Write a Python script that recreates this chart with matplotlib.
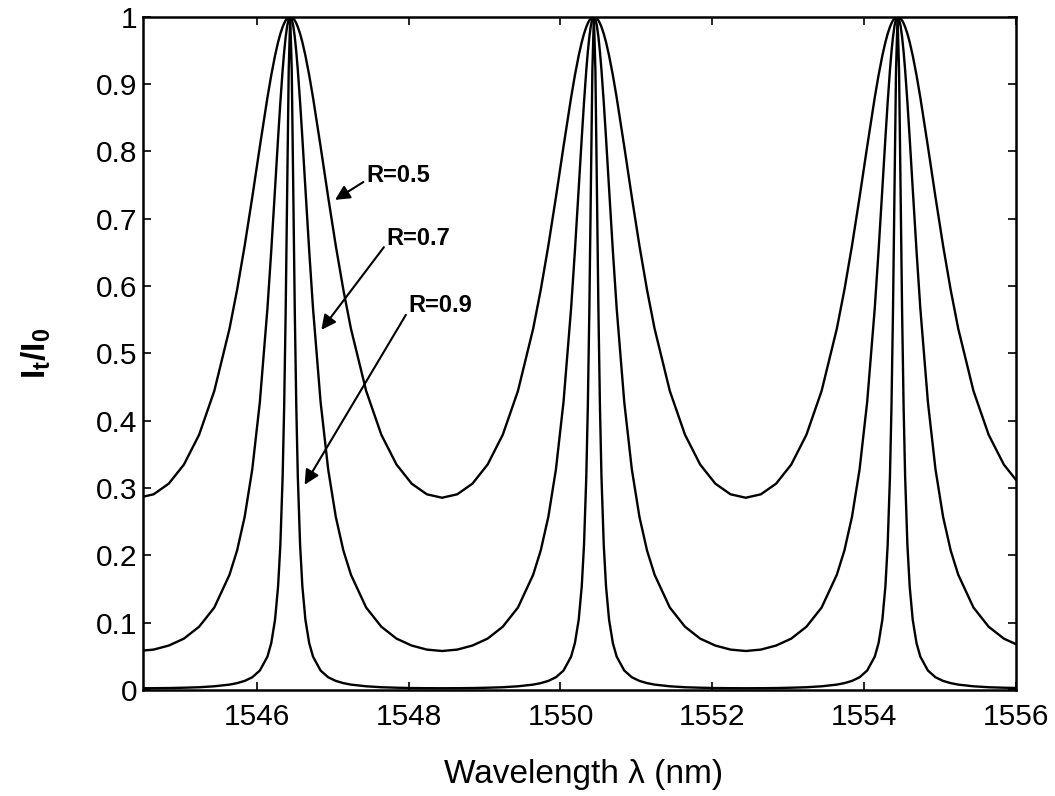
import matplotlib
matplotlib.use("Agg")
import matplotlib.pyplot as plt

#-----------------------------------------------------------
# data (wavelength in nm, normalised transmission)
wavelength = [
  1544.44, 1544.64, 1544.84, 1545.04, 1545.24, 1545.44, 1545.64, 1545.74, 1545.84, 1545.94, 1546.04,
  1546.14, 1546.19, 1546.24, 1546.28, 1546.31, 1546.34, 1546.36, 1546.38, 1546.40, 1546.42,
  1546.44,
  1546.46, 1546.48, 1546.50, 1546.52, 1546.54, 1546.57, 1546.60, 1546.64, 1546.69, 1546.74, 1546.84,
  1546.94, 1547.04, 1547.14, 1547.24, 1547.44, 1547.64, 1547.84, 1548.04, 1548.24, 1548.44,
  1548.64, 1548.84, 1549.04, 1549.24, 1549.44, 1549.64, 1549.74, 1549.84, 1549.94, 1550.04,
  1550.14, 1550.19, 1550.24, 1550.28, 1550.31, 1550.34, 1550.36, 1550.38, 1550.40, 1550.42,
  1550.44,
  1550.46, 1550.48, 1550.50, 1550.52, 1550.54, 1550.57, 1550.60, 1550.64, 1550.69, 1550.74, 1550.84,
  1550.94, 1551.04, 1551.14, 1551.24, 1551.44, 1551.64, 1551.84, 1552.04, 1552.24, 1552.44,
  1552.64, 1552.84, 1553.04, 1553.24, 1553.44, 1553.64, 1553.74, 1553.84, 1553.94, 1554.04,
  1554.14, 1554.19, 1554.24, 1554.28, 1554.31, 1554.34, 1554.36, 1554.38, 1554.40, 1554.42,
  1554.44,
  1554.46, 1554.48, 1554.50, 1554.52, 1554.54, 1554.57, 1554.60, 1554.64, 1554.69, 1554.74, 1554.84,
  1554.94, 1555.04, 1555.14, 1555.24, 1555.44, 1555.64, 1555.84, 1556.04,
]

trans_r05 = [
  .2857, .2908, .3066, .3350, .3793, .4444, .5366, .5944, .6600, .7320, .8073,
  .8801, .9131, .9423, .9622, .9747, .9848, .9902, .9945, .9975, .9994,
  1.0,
  .9994, .9975, .9945, .9902, .9848, .9747, .9622, .9423, .9131, .8801, .8073,
  .7320, .6600, .5944, .5366, .4444, .3793, .3350, .3066, .2908, .2857,
  .2908, .3066, .3350, .3793, .4444, .5366, .5944, .6600, .7320, .8073,
  .8801, .9131, .9423, .9622, .9747, .9848, .9902, .9945, .9975, .9994,
  1.0,
  .9994, .9975, .9945, .9902, .9848, .9747, .9622, .9423, .9131, .8801, .8073,
  .7320, .6600, .5944, .5366, .4444, .3793, .3350, .3066, .2908, .2857,
  .2908, .3066, .3350, .3793, .4444, .5366, .5944, .6600, .7320, .8073,
  .8801, .9131, .9423, .9622, .9747, .9848, .9902, .9945, .9975, .9994,
  1.0,
  .9994, .9975, .9945, .9902, .9848, .9747, .9622, .9423, .9131, .8801, .8073,
  .7320, .6600, .5944, .5366, .4444, .3793, .3350, .3066,
]

trans_r07 = [
  .0581, .0602, .0662, .0765, .0942, .1227, .1713, .2074, .2574, .3278, .4279,
  .5672, .6524, .7448, .8197, .8730, .9207, .9477, .9699, .9864, .9966,
  1.0,
  .9966, .9864, .9699, .9477, .9207, .8730, .8197, .7448, .6524, .5672, .4279,
  .3278, .2574, .2074, .1713, .1227, .0942, .0765, .0662, .0602, .0581,
  .0602, .0662, .0765, .0942, .1227, .1713, .2074, .2574, .3278, .4279,
  .5672, .6524, .7448, .8197, .8730, .9207, .9477, .9699, .9864, .9966,
  1.0,
  .9966, .9864, .9699, .9477, .9207, .8730, .8197, .7448, .6524, .5672, .4279,
  .3278, .2574, .2074, .1713, .1227, .0942, .0765, .0662, .0602, .0581,
  .0602, .0662, .0765, .0942, .1227, .1713, .2074, .2574, .3278, .4279,
  .5672, .6524, .7448, .8197, .8730, .9207, .9477, .9699, .9864, .9966,
  1.0,
  .9966, .9864, .9699, .9477, .9207, .8730, .8197, .7448, .6524, .5672, .4279,
  .3278, .2574, .2074, .1713, .1227, .0942, .0765, .0662,
]

trans_r09 = [
  .0028, .0029, .0031, .0036, .0043, .0057, .0082, .0104, .0137, .0191, .0291,
  .0498, .0698, .1045, .1539, .2157, .3170, .4202, .5628, .7432, .9205,
  1.0,
  .9205, .7432, .5628, .4202, .3170, .2157, .1539, .1045, .0698, .0498, .0291,
  .0191, .0137, .0104, .0082, .0057, .0043, .0036, .0031, .0029, .0028,
  .0029, .0031, .0036, .0043, .0057, .0082, .0104, .0137, .0191, .0291,
  .0498, .0698, .1045, .1539, .2157, .3170, .4202, .5628, .7432, .9205,
  1.0,
  .9205, .7432, .5628, .4202, .3170, .2157, .1539, .1045, .0698, .0498, .0291,
  .0191, .0137, .0104, .0082, .0057, .0043, .0036, .0031, .0029, .0028,
  .0029, .0031, .0036, .0043, .0057, .0082, .0104, .0137, .0191, .0291,
  .0498, .0698, .1045, .1539, .2157, .3170, .4202, .5628, .7432, .9205,
  1.0,
  .9205, .7432, .5628, .4202, .3170, .2157, .1539, .1045, .0698, .0498, .0291,
  .0191, .0137, .0104, .0082, .0057, .0043, .0036, .0031,
]

x_ticks = [1546, 1548, 1550, 1552, 1554, 1556]
y_ticks = [0, 0.1, 0.2, 0.3, 0.4, 0.5, 0.6, 0.7, 0.8, 0.9, 1]
y_ticklabels = ["0", "0.1", "0.2", "0.3", "0.4", "0.5", "0.6", "0.7", "0.8", "0.9", "1"]

# labels with (text position, arrow tip) in data coords
labels = ["R=0.5", "R=0.7", "R=0.9"]
label_xy = [(1547.44, 0.764), (1547.71, 0.670), (1548.0, 0.571)]
arrow_tip = [(1547.03, 0.728), (1546.85, 0.535), (1546.63, 0.305)]

#-----------------------------------------------------------
plt.rcParams['font.family'] = ['Liberation Sans', 'DejaVu Sans']
plt.rcParams['mathtext.fontset'] = 'custom'
plt.rcParams['mathtext.bf'] = 'Liberation Sans:bold'
plt.rcParams['mathtext.rm'] = 'Liberation Sans'

fig = plt.figure(figsize=(10.55, 7.96), dpi=100)
ax = fig.add_axes([0.1355, 0.133, 0.8275, 0.846])

for y in [trans_r05, trans_r07, trans_r09]:
  ax.plot(wavelength, y, color='k', lw=1.7)

ax.set_xlim(1544.5, 1556)
ax.set_ylim(0, 1)
ax.set_xticks(x_ticks)
ax.set_yticks(y_ticks)
ax.set_yticklabels(y_ticklabels)
ax.tick_params(direction='in', top=True, right=True, length=6, width=1.2,
               labelsize=21.5)
ax.tick_params(axis='x', pad=9)
ax.tick_params(axis='y', pad=4)
for s in ax.spines.values():
  s.set_linewidth(1.8)

ax.set_xlabel("Wavelength λ (nm)", fontsize=24)
ax.xaxis.set_label_coords(0.505, -0.102)
ax.set_ylabel(r'$\mathbf{I_t/I_0}$', fontsize=24)
ax.yaxis.set_label_coords(-0.103, 0.5)

for txt, xy, tip in zip(labels, label_xy, arrow_tip):
  ax.annotate(txt, xy=tip, xytext=xy, fontsize=17, fontweight='bold',
              va='center', ha='left',
              arrowprops=dict(arrowstyle='-|>', color='k', lw=1.5,
                              mutation_scale=22, shrinkA=0, shrinkB=0,
                              relpos=(0, 0.3)))

fig.savefig("out.png", dpi=100)
